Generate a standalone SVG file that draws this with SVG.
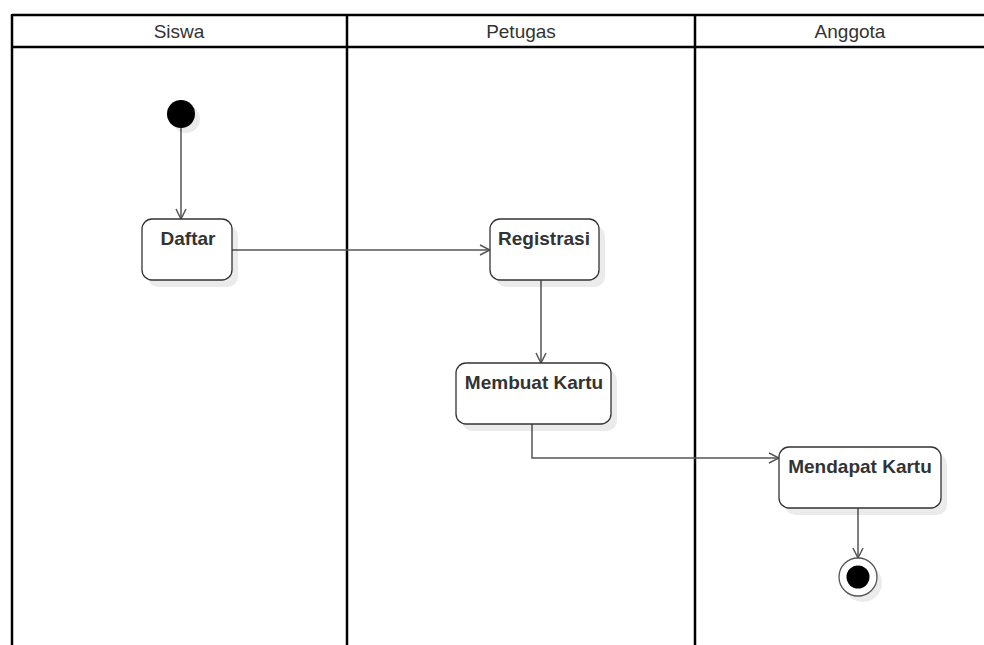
<svg xmlns="http://www.w3.org/2000/svg" width="984" height="645" viewBox="0 0 984 645">
<defs>
<style>
.lane{fill:none;stroke:#000;stroke-width:2.5}
.hdr{font-family:"Liberation Sans",Arial,sans-serif;font-size:19px;fill:#333;text-anchor:middle}
.box{fill:#fff;stroke:#333;stroke-width:1.3}
.shadow{fill:#000;opacity:0.08}
.lbl{font-family:"Liberation Sans",Arial,sans-serif;font-size:19px;font-weight:bold;fill:#333;text-anchor:middle}
.edge{fill:none;stroke:#555;stroke-width:1.5}
</style>
<marker id="arr" viewBox="0 0 12 12" refX="11" refY="6" markerWidth="12" markerHeight="12" markerUnits="userSpaceOnUse" orient="auto">
<path d="M1,1 L11,6 L1,11" fill="none" stroke="#555" stroke-width="1.5"/>
</marker>
</defs>
<rect width="984" height="645" fill="#fff"/>
<g id="swimlanes">
<line class="lane" x1="12" y1="15" x2="984" y2="15"/>
<line class="lane" x1="12" y1="47" x2="984" y2="47"/>
<line class="lane" x1="12" y1="14" x2="12" y2="645"/>
<line class="lane" x1="347" y1="14" x2="347" y2="645"/>
<line class="lane" x1="695" y1="14" x2="695" y2="645"/>
<text class="hdr" x="179" y="38">Siswa</text>
<text class="hdr" x="521" y="38">Petugas</text>
<text class="hdr" x="850" y="38">Anggota</text>
</g>
<g id="connectors">
<line class="edge" x1="181" y1="128" x2="181" y2="219" marker-end="url(#arr)"/>
<line class="edge" x1="232" y1="250" x2="490" y2="250" marker-end="url(#arr)"/>
<line class="edge" x1="541" y1="280" x2="541" y2="363" marker-end="url(#arr)"/>
<polyline class="edge" points="532,424 532,458 779,458" marker-end="url(#arr)"/>
<line class="edge" x1="858" y1="508" x2="858" y2="558" marker-end="url(#arr)"/>
</g>
<g id="start">
<circle class="shadow" cx="186" cy="119" r="14"/>
<circle cx="181" cy="114" r="14" fill="#000"/>
</g>
<g id="daftar">
<rect class="shadow" x="148" y="226" width="90" height="61" rx="10"/>
<rect class="box" x="142" y="219" width="90" height="61" rx="10"/>
<text class="lbl" x="188" y="245">Daftar</text>
</g>
<g id="registrasi">
<rect class="shadow" x="496" y="226" width="109" height="61" rx="10"/>
<rect class="box" x="490" y="219" width="109" height="61" rx="10"/>
<text class="lbl" x="544" y="245">Registrasi</text>
</g>
<g id="membuat-kartu">
<rect class="shadow" x="462" y="370" width="155" height="61" rx="10"/>
<rect class="box" x="456" y="363" width="155" height="61" rx="10"/>
<text class="lbl" x="534" y="389">Membuat Kartu</text>
</g>
<g id="mendapat-kartu">
<rect class="shadow" x="785" y="454" width="162" height="61" rx="10"/>
<rect class="box" x="779" y="447" width="162" height="61" rx="10"/>
<text class="lbl" x="860" y="473">Mendapat Kartu</text>
</g>
<g id="end">
<circle class="shadow" cx="863" cy="583" r="19"/>
<circle cx="858" cy="577" r="19" fill="#fff" stroke="#555" stroke-width="1.3"/>
<circle cx="858" cy="577" r="11.5" fill="#000"/>
</g>
</svg>
